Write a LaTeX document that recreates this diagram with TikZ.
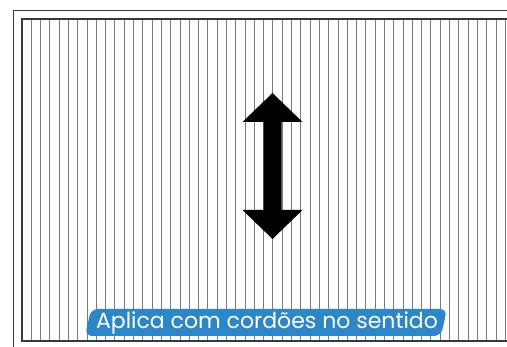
\documentclass[tikz,border=0pt]{standalone}
\usepackage{fontspec}
\setmainfont{Poppins}
\usetikzlibrary{calc,math,positioning}
\definecolor{bannerblue}{HTML}{2B87C9}
\definecolor{framegray}{HTML}{3A3A3A}

\begin{document}
\begin{tikzpicture}[x=1pt,y=-1pt,
 cord/.style={draw=black!52,line width=0.9pt},
 frame line/.style={draw=framegray,line width=1.4pt},
 label text/.style={text=white,font=\fontsize{22}{26}\selectfont,inner sep=0pt}]

 \useasboundingbox (0,0) rectangle (507,347);

         \tikzmath{
            \cordstep = 9.294;
            \panelup = 19;
            \paneldown = 341;
            \arrowx = 272.5;
        }
% outer frame
 \draw [frame line] (13.5,347) |- (507,10.5);

% cords
 \foreach \k in {1,...,52}
   \draw [cord] ({22+\k*\cordstep},\panelup) -- ({22+\k*\cordstep},\paneldown);
 \draw [frame line, line width=1.1pt] (507,\panelup) -| (22,\paneldown) -- (507,\paneldown);

% double arrow
  \coordinate(T) at (\arrowx,93);
  \coordinate(B) at (\arrowx,239);
  \fill (T) -- ++(30,29) -- ++(-21,0) -- ++(0,88) -- ++(21,0)
     -- (B) -- ++(-30,-29) -- ++(21,0) -- ++(0,-88) -- ++(-21,0) -- cycle;

% banner
  \fill[bannerblue, rounded corners=7pt] (91,309) -- (447,309) -- (441,336) -- (85,336) -- cycle;
  \node[label text] (sentido) at (267,322.5) {Aplica com cordões no sentido};

\end{tikzpicture}
\end{document}
